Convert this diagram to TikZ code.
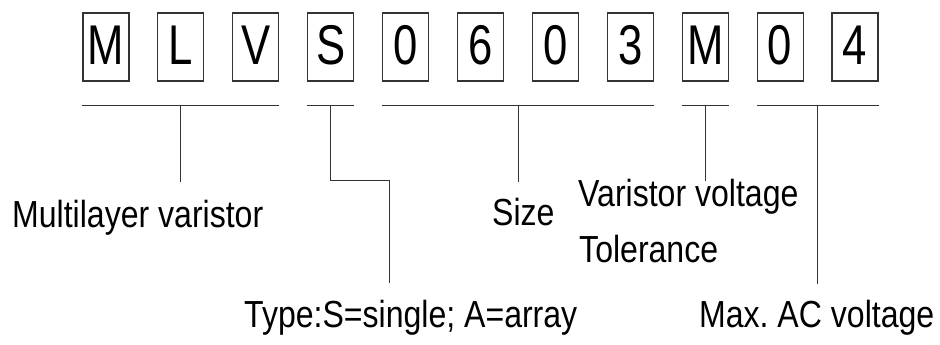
\documentclass[tikz,border=0pt]{standalone}
\usepackage{fontspec}
\setmainfont{Liberation Sans}[FakeStretch=0.85]
\newfontfamily\digitfont{Liberation Sans}[FakeStretch=0.78]
\usetikzlibrary{calc}
\tikzset{
  codebox/.style={draw=black!80, line width=1.1pt, minimum width=46pt, minimum height=68pt,
    inner sep=0pt, text height=40pt, text depth=4pt, font=\digitfont\fontsize{56}{60}\selectfont},
  caption/.style={anchor=base west, inner sep=0pt, font=\fontsize{37.7}{40}\selectfont},
  lead/.style={draw=black!80, line width=0.9pt}
}
\def\bracketDrop{24}

\begin{document}
\begin{tikzpicture}[x=1pt,y=-1pt]
  \useasboundingbox (0,0) rectangle (940,345);
  \foreach \ch [count=\i] in {M,L,V,S,0,6,0,3,M,0,4}
    \node[codebox] (b\i) at ({106+74.9*(\i-1)},47) {\ch};

  \coordinate (g1l) at ($(b1.south west)+(0,\bracketDrop)$);
  \coordinate (g1r) at ($(b3.south east)+(0,\bracketDrop)$);
  \coordinate (g2l) at ($(b4.south west)+(0,\bracketDrop)$);
  \coordinate (g2r) at ($(b4.south east)+(0,\bracketDrop)$);
  \coordinate (g3l) at ($(b5.south west)+(0,\bracketDrop)$);
  \coordinate (g3r) at ($(b8.south east)+(0,\bracketDrop)$);
  \coordinate (g4l) at ($(b9.south west)+(0,\bracketDrop)$);
  \coordinate (g4r) at ($(b9.south east)+(0,\bracketDrop)$);
  \coordinate (g5l) at ($(b10.south west)+(0,\bracketDrop)$);
  \coordinate (g5r) at ($(b11.south east)+(0,\bracketDrop)$);
  \coordinate (typeend) at (389,283);

  \node[caption] (multilayer) at (12,227) {Multilayer varistor};
  \node[caption] (type) at (244,327) {Type:S=single; A=array};
  \node[caption] (size) at (492,225) {Size};
  \node[caption] (varistor) at (578,206) {Varistor voltage};
  \node[caption] (tolerance) at (579,262) {Tolerance};
  \node[caption] (maxac) at (699,327) {Max.\kern-3pt{} AC voltage};

  \draw[lead] (g1l) -- (g1r);
  \draw[lead] (g2l) -- (g2r);
  \draw[lead] (g3l) -- (g3r);
  \draw[lead] (g4l) -- (g4r);
  \draw[lead] (g5l) -- (g5r);

  \draw[lead] ($(g1l)!0.5!(g1r)$) -- ++(0,76);
  \draw[lead] ($(g2l)!0.5!(g2r)$) -- ++(0,75) -| (typeend);
  \draw[lead] ($(g3l)!0.5!(g3r)$) -- ++(0,76);
  \draw[lead] ($(g4l)!0.5!(g4r)$) -- ++(0,75);
  \draw[lead] ($(g5l)!0.5!(g5r)$) -- ++(0,178);
\end{tikzpicture}
\end{document}
